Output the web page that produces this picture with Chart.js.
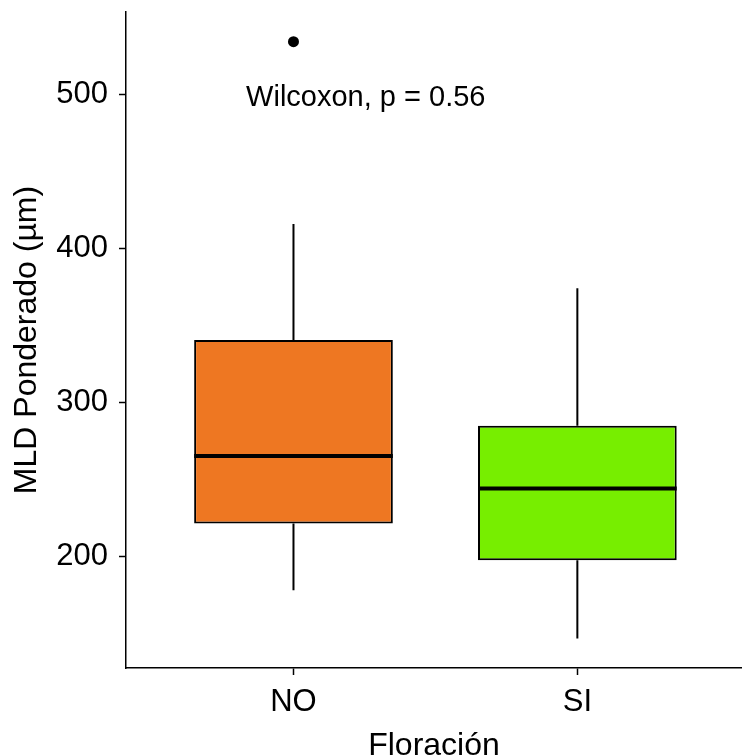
<!DOCTYPE html>
<html lang="es">
<head>
    <meta charset="UTF-8">
    <title>MLD Ponderado por Floración</title>
    <script src="https://cdn.jsdelivr.net/npm/chart.js"></script>
    <style>
        body {
            margin: 0;
            background-color: #ffffff;
        }
        .chart-box {
            width: 742px;
            height: 756px;
        }
    </style>
</head>
<body>
    <div class="chart-box">
        <canvas id="boxChart" width="742" height="756"></canvas>
    </div>
    <script>
        // values
        const categories = ['NO', 'SI'];
        const whiskerLow = [177.9, 146.5];
        const q1 = [221.2, 197.4];
        const median = [265.0, 244.0];
        const q3 = [340.4, 284.7];
        const whiskerHigh = [415.6, 374.0];
        const outliersNO = [534.0];
        const outliersSI = [];
        const yTicks = [200, 300, 400, 500];
        const fillColors = ['#EE7722', '#77EE00'];
        const testLabel = 'Wilcoxon, p = 0.56';

        const fontFamily = "'Liberation Sans', Arial, sans-serif";

        const outlierPoints = [];
        outliersNO.forEach(v => outlierPoints.push({ x: 1, y: v }));
        outliersSI.forEach(v => outlierPoints.push({ x: 2, y: v }));

        // whiskers under the boxes, medians and the test label on top
        const boxplotExtras = {
            id: 'boxplotExtras',
            beforeDatasetsDraw(chart) {
                const ctx = chart.ctx;
                const xs = chart.scales.x, ys = chart.scales.y;
                ctx.save();
                ctx.strokeStyle = '#000';
                ctx.lineWidth = 2;
                categories.forEach((c, i) => {
                    const px = xs.getPixelForValue(i + 1);
                    ctx.beginPath();
                    ctx.moveTo(px, ys.getPixelForValue(whiskerLow[i]));
                    ctx.lineTo(px, ys.getPixelForValue(q1[i]));
                    ctx.moveTo(px, ys.getPixelForValue(q3[i]));
                    ctx.lineTo(px, ys.getPixelForValue(whiskerHigh[i]));
                    ctx.stroke();
                });
                ctx.restore();
            },
            afterDatasetsDraw(chart) {
                const ctx = chart.ctx;
                const xs = chart.scales.x, ys = chart.scales.y;
                const bars = chart.getDatasetMeta(0).data;
                ctx.save();
                ctx.strokeStyle = '#000';
                ctx.lineWidth = 4;
                bars.forEach((bar, i) => {
                    const py = ys.getPixelForValue(median[i]);
                    ctx.beginPath();
                    ctx.moveTo(bar.x - bar.width / 2, py);
                    ctx.lineTo(bar.x + bar.width / 2, py);
                    ctx.stroke();
                });
                ctx.fillStyle = '#000';
                ctx.font = '29px ' + fontFamily;
                ctx.textAlign = 'left';
                ctx.textBaseline = 'middle';
                ctx.fillText(testLabel, xs.getPixelForValue(0.833), ys.getPixelForValue(497.6));
                ctx.restore();
            }
        };

        const ctx = document.getElementById('boxChart').getContext('2d');
        const chart = new Chart(ctx, {
            type: 'scatter',
            data: {
                datasets: [{
                    type: 'bar',
                    data: categories.map((c, i) => ({ x: i + 1, y: [q1[i], q3[i]] })),
                    backgroundColor: fillColors,
                    borderColor: '#000',
                    borderWidth: 2,
                    borderSkipped: false,
                    categoryPercentage: 1,
                    barPercentage: 0.7
                }, {
                    type: 'scatter',
                    data: outlierPoints,
                    pointRadius: 5.5,
                    pointBackgroundColor: '#000',
                    pointBorderColor: '#000',
                    pointBorderWidth: 0
                }]
            },
            options: {
                responsive: false,
                animation: false,
                layout: { autoPadding: false, padding: { top: 12, right: 0, left: 0, bottom: 0 } },
                plugins: {
                    legend: { display: false },
                    tooltip: { enabled: false }
                },
                scales: {
                    x: {
                        type: 'linear',
                        min: 0.41,
                        max: 2.58,
                        offset: false,
                        afterBuildTicks: s => { s.ticks = categories.map((c, i) => ({ value: i + 1 })); },
                        afterFit: s => { s.height = 88; s.paddingLeft = 0; s.paddingRight = 0; },
                        ticks: {
                            callback: v => categories[v - 1],
                            color: '#000',
                            font: { family: fontFamily, size: 31 },
                            padding: 9,
                            maxRotation: 0
                        },
                        grid: { offset: false, drawOnChartArea: false, drawTicks: true, tickLength: 7, tickWidth: 1.5, tickColor: '#000' },
                        border: { display: true, color: '#000', width: 1.5 },
                        title: {
                            display: true,
                            text: 'Floración',
                            color: '#000',
                            font: { family: fontFamily, size: 32 },
                            padding: { top: 0, bottom: -9 }
                        }
                    },
                    y: {
                        type: 'linear',
                        min: 127.4,
                        max: 553.3,
                        afterBuildTicks: s => { s.ticks = yTicks.map(v => ({ value: v })); },
                        afterFit: s => { s.width = 126; s.paddingTop = 0; s.paddingBottom = 0; },
                        ticks: {
                            color: '#000',
                            font: { family: fontFamily, size: 31 },
                            padding: 11
                        },
                        grid: { drawOnChartArea: false, drawTicks: true, tickLength: 7, tickWidth: 1.5, tickColor: '#000' },
                        border: { display: true, color: '#000', width: 1.5 },
                        title: {
                            display: true,
                            text: 'MLD Ponderado (µm)',
                            color: '#000',
                            font: { family: fontFamily, size: 32 },
                            padding: { top: 8, bottom: 0 }
                        }
                    }
                }
            },
            plugins: [boxplotExtras]
        });
    </script>
</body>
</html>
